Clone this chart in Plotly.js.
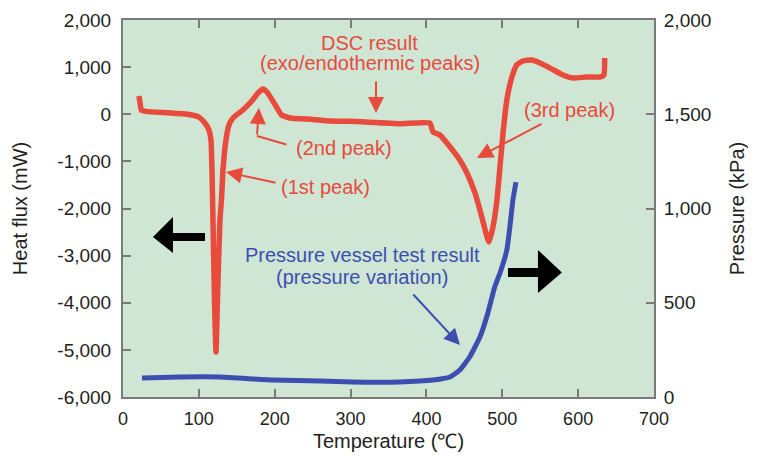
<!DOCTYPE html>
<html>
<head>
<meta charset="utf-8">
<script src="https://cdn.plot.ly/plotly-3.0.1.min.js"></script>
<style>html,body{margin:0;padding:0;background:#fff;}#chart{width:762px;height:459px;}</style>
</head>
<body>
<div id="chart"></div>
<script>
// DSC result: temperature (°C) vs heat flux (mW)
const dscTemp = [21, 22.5, 24, 30, 60, 85, 100, 108, 113.3, 116, 117.3, 118.6, 120.6, 122.6, 124.5, 127.8, 129.8, 131.8, 135.7, 139.7, 145, 158, 171, 178, 184.5, 189.8, 200, 209, 220, 250, 273, 300, 365, 404.6, 408.6, 417.8, 431, 444, 453.4, 464, 473, 479.8, 482.4, 487.7, 493, 497, 501, 506, 512.7, 519, 527, 539, 549.6, 563, 580, 593, 611.5, 628.7, 634, 635];
const dscFlux = [387, 240, 90, 60, 30, 0, -60, -185, -335, -547, -1183, -2244, -3941, -5045, -3941, -2244, -1820, -1183, -547, -228, -80, 90, 302, 451, 536, 472, 217, -16, -80, -110, -143, -150, -200, -185, -375, -440, -690, -970, -1246, -1670, -2180, -2604, -2710, -2392, -1820, -1110, -400, 302, 790, 1045, 1130, 1150, 1087, 980, 833, 769, 790, 790, 833, 1193];

// Pressure vessel test result: temperature (°C) vs pressure (kPa)
const presTemp = [25, 75, 128, 198, 260, 303, 365, 408.6, 431, 444, 457, 470.5, 481, 490, 497, 506, 510, 514, 518];
const presKPa = [101, 106, 106, 90, 85, 80, 80, 90, 106, 143, 212, 318, 446, 584, 658, 780, 902, 1045, 1140];

// Tick labels
const xTickVals = [0, 100, 200, 300, 400, 500, 600, 700];
const xTickText = ['0', '100', '200', '300', '400', '500', '600', '700'];
const yTickVals = [2000, 1000, 0, -1000, -2000, -3000, -4000, -5000, -6000];
const yTickText = ['2,000', '1,000', '0', '-1,000', '-2,000', '-3,000', '-4,000', '-5,000', '-6,000'];
const y2TickVals = [0, 500, 1000, 1500, 2000];
const y2TickText = ['0', '500', '1,000', '1,500', '2,000'];

const RED = '#e84a3c';
const BLUE = '#3c4fb0';
const TXT = '#231f20';
const FONT = 'Liberation Sans, Arial, Helvetica, sans-serif';
const AX = '#7a7a7a';

const traces = [
  {x: dscTemp, y: dscFlux, type: 'scatter', mode: 'lines', line: {color: RED, width: 5.5, shape: 'spline', smoothing: 0.4}, yaxis: 'y', hoverinfo: 'skip'},
  {x: presTemp, y: presKPa, type: 'scatter', mode: 'lines', line: {color: BLUE, width: 5, shape: 'spline', smoothing: 0.4}, yaxis: 'y2', hoverinfo: 'skip'}
];

function txt(t, x, y, color, yref) {
  return {text: t, x: x, y: y, xref: 'x', yref: yref || 'y', showarrow: false,
          font: {family: FONT, size: 20, color: color}, xanchor: 'center', yanchor: 'middle'};
}
function arr(x, y, ax, ay, color, head, yref) {
  return {text: '', x: x, y: y, xref: 'x', yref: yref || 'y', showarrow: true, ax: ax, ay: ay,
          arrowcolor: color, arrowwidth: 2, arrowhead: head, arrowsize: 1.6, standoff: 0, startstandoff: 0};
}

const annotations = [
  txt('DSC result', 325.5, 1512, RED),
  txt('(exo/endothermic peaks)', 325.5, 1088, RED),
  txt('(2nd peak)', 291, -716, RED),
  txt('(1st peak)', 267.6, -1549, RED),
  txt('(3rd peak)', 589, 90, RED),
  txt('Pressure vessel test result', 315.7, -2987, BLUE),
  txt('(pressure variation)', 315.7, -3464, BLUE),
  arr(333.5, 26.5, 0, -33, RED, 2),
  arr(176.6, -462, 31, 9, RED, 0),
  arr(179.2, 132.6, -2, 28, RED, 2),
  arr(135.8, -1225, 51, 11, RED, 2),
  arr(466.6, -928, 66, -35, RED, 2),
  arr(444.2, 276, -48, -52, BLUE, 2, 'y2')
];

const shapes = [
  {type: 'path', xref: 'x', yref: 'y', fillcolor: '#000', line: {width: 0},
   path: 'M 108.1,-2520 L 65.9,-2520 L 65.9,-2180 L 39.5,-2605 L 65.9,-2944 L 65.9,-2690 L 108.1,-2690 Z'},
  {type: 'path', xref: 'x', yref: 'y', fillcolor: '#000', line: {width: 0},
   path: 'M 507.5,-3263 L 547,-3263 L 547,-2880 L 578.6,-3358 L 547,-3793 L 547,-3454 L 507.5,-3454 Z'}
];

const layout = {
  width: 762, height: 459,
  margin: {l: 123, r: 108, t: 20, b: 62, pad: 0},
  paper_bgcolor: '#ffffff',
  plot_bgcolor: '#cfe6d5',
  showlegend: false,
  font: {family: FONT, color: TXT},
  xaxis: {
    range: [0, 700], tickvals: xTickVals, ticktext: xTickText,
    ticks: 'inside', ticklen: 8, tickwidth: 2, tickcolor: AX,
    showline: true, linecolor: AX, linewidth: 2, mirror: 'ticks',
    showgrid: false, zeroline: false,
    tickfont: {family: FONT, size: 18, color: TXT}, ticklabelstandoff: 4,
    title: {text: 'Temperature (℃)', font: {family: FONT, size: 20, color: TXT}, standoff: 6}
  },
  yaxis: {
    range: [-6000, 2000], tickvals: yTickVals, ticktext: yTickText,
    ticks: 'inside', ticklen: 8, tickwidth: 2, tickcolor: AX,
    showline: true, linecolor: AX, linewidth: 2, mirror: false,
    showgrid: false, zeroline: false,
    tickfont: {family: FONT, size: 19, color: TXT}, ticklabelstandoff: 6,
    title: {text: 'Heat flux (mW)', font: {family: FONT, size: 20, color: TXT}, standoff: 24}
  },
  yaxis2: {
    range: [0, 2000], tickvals: y2TickVals, ticktext: y2TickText, overlaying: 'y', side: 'right',
    ticks: 'inside', ticklen: 8, tickwidth: 2, tickcolor: AX,
    showline: true, linecolor: AX, linewidth: 2,
    showgrid: false, zeroline: false,
    tickfont: {family: FONT, size: 19, color: TXT}, ticklabelstandoff: 4,
    title: {text: 'Pressure (kPa)', font: {family: FONT, size: 20, color: TXT}, standoff: 20}
  },
  annotations: annotations,
  shapes: shapes
};

Plotly.newPlot('chart', traces, layout, {staticPlot: true, displayModeBar: false});
</script>
</body>
</html>
